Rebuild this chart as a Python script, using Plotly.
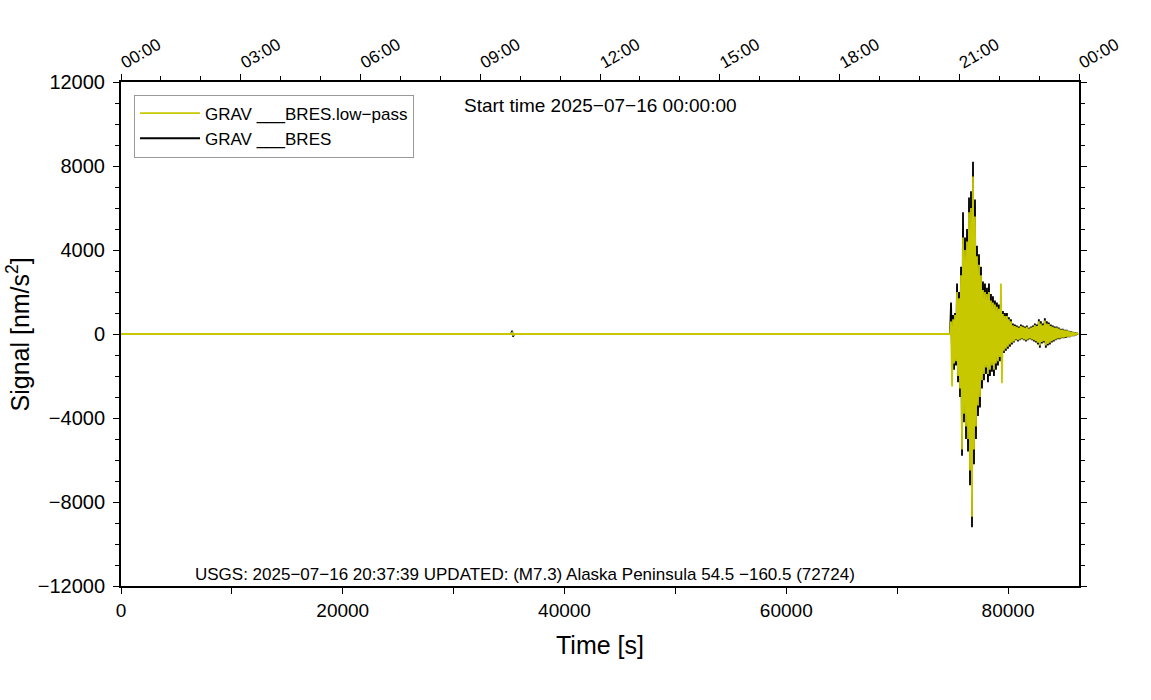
import plotly.graph_objects as go

# ---------------- data ----------------
# quiet part of the record (time [s], signal [nm/s^2])
pre_t = [0, 35180, 35270, 35360, 35450, 74770]
pre_raw = [0, 0, 160, -130, 0, 0]
pre_lp = [0, 0, 60, -50, 0, 0]

# event part: successive peak values, sampled every EV_DT seconds from EV_T0
EV_T0 = 74860
EV_DT = 90
ev_raw = [
    1500, -1000, 900, -1700, 1000, -1500, 2400, -2300, 2000, -3000,
    3200, -5800, 5800, -4200, 4600, -5000, 5000, -5600, 6500, -7200,
    6800, -9200, 8200, -6200, 6400, -5000, 4200, -3900, 3800, -3500,
    3200, -2600, 2500, -2200, 2400, -1900, 2200, -2300, 2400, -2000,
    1900, -1800, 1800, -2000, 1600, -1700, 1500, -1500, 1400, -1300,
    1300, -1200, 1100, -900, 1000, -800, 1000, -700, 800, -600,
    700, -500, 500, -400, 450, -300, 400, -350, 350, -300,
    450, -250, 400, -300, 350, -350, 400, -300, 300, -250,
    350, -300, 400, -350, 500, -400, 450, -500, 700, -650,
    600, -450, 500, -400, 750, -650, 600, -550, 550, -500,
    450, -400, 400, -350, 350, -300, 350, -250, 300, -250,
    250, -200, 250, -200, 200, -180, 200, -150, 150, -150,
    120, -100, 100, -100, 80, -60, 50, -30,
]
ev_lp = [
    600, -2500, 700, -1400, 900, -1300, 2000, -2000, 1700, -2600,
    2800, -5500, 4600, -3800, 4000, -4400, 4400, -5000, 5800, -6500,
    6000, -8700, 7500, -5500, 5600, -4400, 3700, -3400, 3300, -3000,
    2800, -2200, 2100, -1900, 2000, -1600, 1900, -1900, 2000, -1700,
    1600, -1500, 1500, -1700, 1400, -1400, 1300, -1300, 1200, -1100,
    2400, -2350, 950, -800, 850, -700, 850, -600, 700, -500,
    600, -420, 420, -350, 380, -260, 340, -300, 300, -260,
    380, -210, 340, -260, 300, -300, 340, -260, 260, -210,
    300, -260, 340, -300, 420, -340, 380, -420, 600, -550,
    500, -380, 420, -340, 640, -550, 500, -470, 470, -420,
    380, -340, 340, -300, 300, -260, 300, -210, 260, -210,
    210, -170, 210, -170, 170, -150, 170, -130, 130, -130,
    100, -90, 90, -80, 70, -50, 40, -20,
]

top_tick_vals = [0, 10800, 21600, 32400, 43200, 54000, 64800, 75600, 86400]
top_tick_text = ["00:00", "03:00", "06:00", "09:00", "12:00", "15:00", "18:00", "21:00", "00:00"]

raw_name = "GRAV ___BRES"
lp_name = "GRAV ___BRES.low\u2212pass"
y_title = "Signal [nm/s<sup>2</sup>]"
x_title = "Time [s]"
start_text = "Start time 2025\u221207\u221216 00:00:00"
event_text = "USGS: 2025\u221207\u221216 20:37:39 UPDATED: (M7.3) Alaska Peninsula 54.5 \u2212160.5 (72724)"

# ---------------- build ----------------
ev_t = [EV_T0 + EV_DT * i for i in range(len(ev_raw))]
x_all = pre_t + ev_t
raw_all = pre_raw + ev_raw
lp_all = pre_lp + ev_lp

FONT = "Liberation Sans, Arial, Helvetica, sans-serif"
YEL = "#c8c800"

fig = go.Figure()
fig.add_trace(go.Scatter(x=x_all, y=raw_all, mode="lines", name=raw_name,
                         line=dict(color="black", width=1.8)))
fig.add_trace(go.Scatter(x=x_all, y=lp_all, mode="lines", name=lp_name,
                         line=dict(color=YEL, width=1.8)))
# carrier for the top (clock time) axis
fig.add_trace(go.Scatter(x=[0, 86400], y=[0, 0], xaxis="x2", mode="markers",
                         marker=dict(opacity=0), showlegend=False, hoverinfo="skip"))

fig.update_layout(
    width=1151, height=700,
    margin=dict(l=121, r=72, t=82, b=114, autoexpand=False),
    paper_bgcolor="white", plot_bgcolor="white",
    font=dict(family=FONT, color="black", size=20),
    showlegend=True,
    legend=dict(x=0.0136, y=0.975, xanchor="left", yanchor="top",
                traceorder="reversed", bgcolor="white",
                bordercolor="#999999", borderwidth=1,
                font=dict(size=17, family=FONT), itemwidth=60,
                tracegroupgap=0),
    xaxis=dict(range=[0, 86400], showgrid=False, zeroline=False, automargin=False,
               showline=True, linecolor="black", linewidth=2,
               ticks="outside", ticklen=6, tickwidth=1, tickcolor="black",
               tick0=0, dtick=20000, tickformat="d",
               minor=dict(dtick=10000, ticks="outside", ticklen=6, tickcolor="black"),
               title=dict(text=x_title, font=dict(size=25), standoff=17),
               tickfont=dict(size=19)),
    xaxis2=dict(range=[0, 86400], overlaying="x", side="top", anchor="y",
                showgrid=False, zeroline=False, showline=True, automargin=False,
                linecolor="black", linewidth=2,
                ticks="outside", ticklen=6, tickwidth=1, tickcolor="black",
                tickmode="array", tickvals=top_tick_vals, ticktext=top_tick_text,
                tickangle=-30, tickfont=dict(size=17), ticklabelstandoff=-3,
                minor=dict(dtick=3600, ticks="outside", ticklen=4, tickcolor="black")),
    yaxis=dict(range=[-12000, 12000], showgrid=False, zeroline=False, automargin=False,
               showline=True, mirror="ticks", linecolor="black", linewidth=2,
               ticks="outside", ticklen=6, tickwidth=1, tickcolor="black",
               tick0=0, dtick=4000, tickformat="d", ticklabelstandoff=4,
               minor=dict(dtick=1000, ticks="outside", ticklen=4, tickcolor="black"),
               tickfont=dict(size=20)),
    annotations=[
        dict(text=y_title, xref="paper", yref="paper", x=-0.107, y=0.5,
             xanchor="center", yanchor="middle", textangle=-90, showarrow=False,
             font=dict(size=25, family=FONT)),
        dict(text=start_text, xref="paper", yref="paper", x=0.5, y=0.954,
             xanchor="center", yanchor="middle", showarrow=False,
             font=dict(size=19, family=FONT)),
        dict(text=event_text, xref="paper", yref="paper", x=0.4217, y=0.022,
             xanchor="center", yanchor="middle", showarrow=False,
             font=dict(size=17, family=FONT)),
    ],
)

fig.write_html("out.html", config={"displayModeBar": False},
               post_script="document.body.style.margin='0px';")
